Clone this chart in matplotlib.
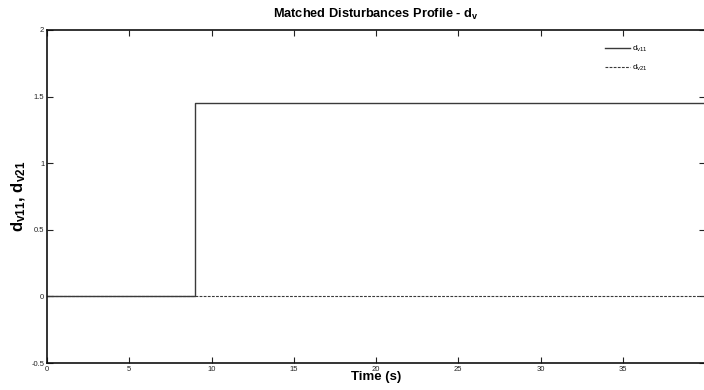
import matplotlib
matplotlib.use("Agg")
import matplotlib.pyplot as plt

plt.rcParams['font.family'] = ['Liberation Sans', 'DejaVu Sans']
plt.rcParams['mathtext.fontset'] = 'custom'
plt.rcParams['mathtext.rm'] = 'Liberation Sans'
plt.rcParams['mathtext.bf'] = 'Liberation Sans:bold'
plt.rcParams['mathtext.it'] = 'Liberation Sans:italic'

time = [0, 9, 40]
dv11 = [0, 1.45, 1.45]
dv21 = [0, 0, 0]
xticks = [0, 5, 10, 15, 20, 25, 30, 35]
yticks = [-0.5, 0, 0.5, 1, 1.5, 2]
yticklabels = ['-0.5', '0', '0.5', '1', '1.5', '2']

fig = plt.figure(figsize=(7.04, 3.9), dpi=100)
ax = fig.add_axes([47/704, 1-363/390, 658/704, 333/390])

ax.plot(time, dv11, drawstyle='steps-post', color='#3a3a3a', lw=1.0, label=r'$\mathregular{d_{v11}}$')
ax.plot(time, dv21, drawstyle='steps-post', color='#3a3a3a', lw=0.8, ls=(0, (2.5, 1.2)), label=r'$\mathregular{d_{v21}}$')

ax.set_xlim(0, 40)
ax.set_ylim(-0.5, 2)
ax.set_xticks(xticks)
ax.set_yticks(yticks)
ax.set_yticklabels(yticklabels)
ax.tick_params(direction='in', top=True, right=True, labelsize=5.5, length=4, width=0.8, pad=2, colors='#222222')
for s in ax.spines.values():
    s.set_linewidth(1.2)
    s.set_color('#111111')

ax.set_title(r'Matched Disturbances Profile - d$_\mathbf{v}$', fontsize=9.2, fontweight='bold', pad=9)
ax.set_xlabel('Time (s)', fontsize=9.5, fontweight='bold', labelpad=-1)
ax.set_ylabel(r'$\mathbf{d_{v11},\,d_{v21}}$', fontsize=12, labelpad=2)

leg = ax.legend(loc='upper right', bbox_to_anchor=(0.925, 0.98), frameon=False, fontsize=6,
                handlelength=3.0, handletextpad=0.3, labelspacing=1.0)

fig.savefig('out.png', dpi=100)
